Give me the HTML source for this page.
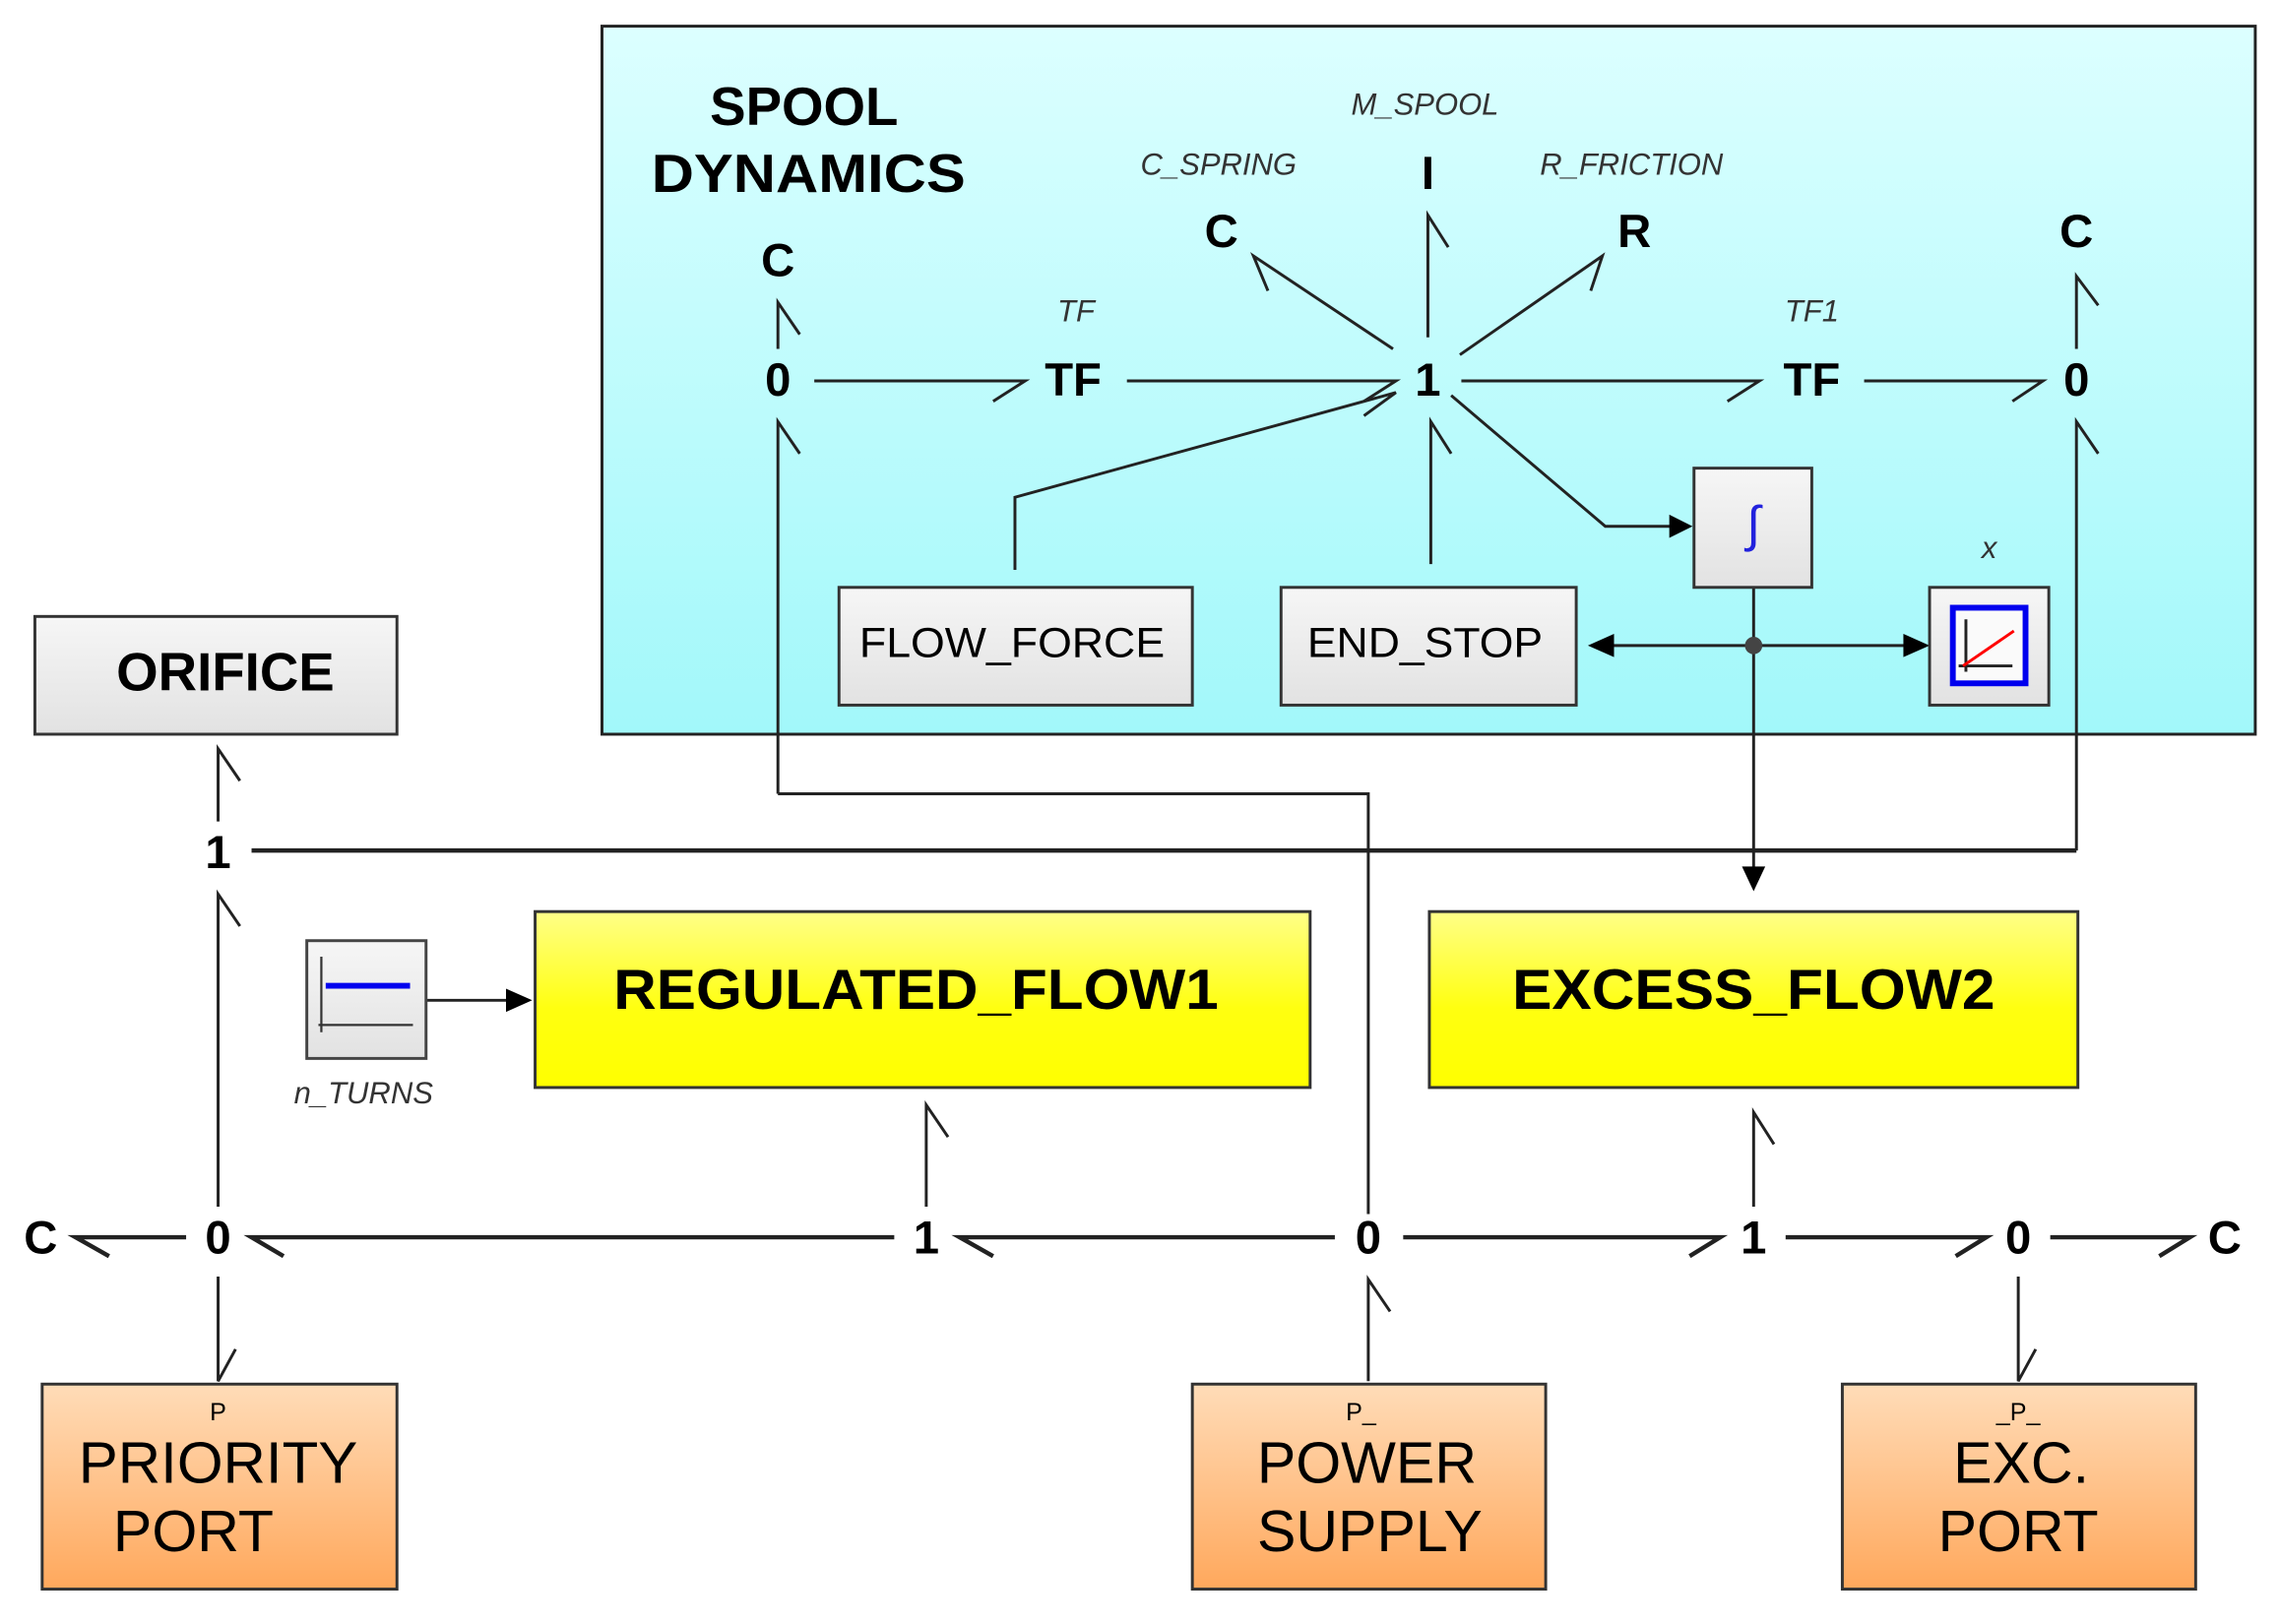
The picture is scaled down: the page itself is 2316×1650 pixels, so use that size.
<!DOCTYPE html>
<html><head><meta charset="utf-8"><style>
html,body{margin:0;padding:0;background:#fff;}
svg{display:block;}
text{font-family:"Liberation Sans",Arial,sans-serif;}
</style></head><body>
<svg width="2316" height="1650" viewBox="0 0 1568 1117" preserveAspectRatio="none" xmlns="http://www.w3.org/2000/svg">
<defs>
<linearGradient id="cy" x1="0" y1="0" x2="0" y2="1"><stop offset="0" stop-color="#dcffff"/><stop offset="1" stop-color="#a2f8fa"/></linearGradient>
<linearGradient id="gr" x1="0" y1="0" x2="0" y2="1"><stop offset="0" stop-color="#f6f6f6"/><stop offset="1" stop-color="#e2e2e2"/></linearGradient>
<linearGradient id="ye" x1="0" y1="0" x2="0" y2="1"><stop offset="0" stop-color="#ffff88"/><stop offset="0.55" stop-color="#ffff10"/><stop offset="1" stop-color="#ffff00"/></linearGradient>
<linearGradient id="or" x1="0" y1="0" x2="0" y2="1"><stop offset="0" stop-color="#ffdcb8"/><stop offset="1" stop-color="#ffa85c"/></linearGradient>
</defs>

<rect x="414" y="18" width="1137" height="487" fill="url(#cy)" stroke="#222" stroke-width="2"/>
<text x="553" y="86" font-size="37" font-weight="bold" text-anchor="middle">SPOOL</text>
<text x="556" y="132" font-size="37" font-weight="bold" text-anchor="middle" textLength="216" lengthAdjust="spacingAndGlyphs">DYNAMICS</text>

<g font-weight="bold" font-size="32" text-anchor="middle">
<text x="535" y="190">C</text>
<text x="535" y="272">0</text>
<text x="738" y="272">TF</text>
<text x="982" y="272">1</text>
<text x="840" y="170">C</text>
<text x="982" y="130">I</text>
<text x="1124" y="170">R</text>
<text x="1246" y="272">TF</text>
<text x="1428" y="272">0</text>
<text x="1428" y="170">C</text>
<text x="150" y="597">1</text>
<text x="28" y="862">C</text>
<text x="150" y="862">0</text>
<text x="637" y="862">1</text>
<text x="941" y="862">0</text>
<text x="1206" y="862">1</text>
<text x="1388" y="862">0</text>
<text x="1530" y="862">C</text>
</g>
<g font-style="italic" font-size="21" fill="#333" text-anchor="middle">
<text x="740" y="221">TF</text>
<text x="980" y="79">M_SPOOL</text>
<text x="838" y="120">C_SPRING</text>
<text x="1122" y="120">R_FRICTION</text>
<text x="1246" y="221">TF1</text>
<text x="1368" y="384">x</text>
<text x="250" y="759">n_TURNS</text>
</g>

<g stroke="#222" stroke-width="2" fill="none">
<path d="M535 240 V208 L550 230"/>
<path d="M560 262 H705 L683 276"/>
<path d="M775 262 H960 L938 276"/>
<path d="M958 240 L862 176 L872 200"/>
<path d="M982 232 V148 L996 170"/>
<path d="M1004 244 L1102 176 L1094 200"/>
<path d="M1005 262 H1210 L1188 276"/>
<path d="M1282 262 H1405 L1384 276"/>
<path d="M1428 240 V190 L1443 210"/>
<path d="M698 392 V342 L960 270 L938 286"/>
<path d="M984 388 V290 L998 312"/>
<path d="M998 272 L1104 362 H1150"/>
<path d="M1206 404 V598"/>
<path d="M1104 444 H1312"/>
<path d="M535 546 V290 L550 312"/>
<path d="M535 546 H941 V835"/>
<path d="M1428 585 V290 L1443 312"/>
<path d="M150 565 V515 L165 537"/>
<path d="M150 830 V615 L165 637"/>
<path d="M293 688 H352"/>
<path d="M637 830 V760 L652 782"/>
<path d="M1206 830 V765 L1220 787"/>
<path d="M150 878 V950 L162 928"/>
<path d="M941 950 V880 L956 902"/>
<path d="M1388 878 V950 L1400 928"/>
</g>
<g stroke="#222" stroke-width="3" fill="none">
<path d="M173 585 H1428"/>
<path d="M128 851 H52 L75 864"/>
<path d="M615 851 H173 L195 864"/>
<path d="M918 851 H660 L683 864"/>
<path d="M965 851 H1183 L1162 864"/>
<path d="M1228 851 H1366 L1345 864"/>
<path d="M1410 851 H1506 L1485 864"/>
</g>
<g fill="#000">
<polygon points="1164,362 1148,354 1148,370"/>
<polygon points="1092,444 1110,436 1110,452"/>
<polygon points="1327,444 1309,436 1309,452"/>
<polygon points="1206,613 1198,596 1214,596"/>
<polygon points="366,688 348,680 348,696"/>
<circle cx="1206" cy="444" r="6" fill="#444"/>
</g>

<rect x="577" y="404" width="243" height="81" fill="url(#gr)" stroke="#333" stroke-width="2"/>
<text x="696" y="452" font-size="29" text-anchor="middle" textLength="210" lengthAdjust="spacingAndGlyphs">FLOW_FORCE</text>
<rect x="881" y="404" width="203" height="81" fill="url(#gr)" stroke="#333" stroke-width="2"/>
<text x="980" y="452" font-size="29" text-anchor="middle" textLength="162" lengthAdjust="spacingAndGlyphs">END_STOP</text>
<rect x="1165" y="322" width="81" height="82" fill="url(#gr)" stroke="#333" stroke-width="2"/>
<text x="1206" y="372" font-size="34" font-style="italic" fill="#2222dd" text-anchor="middle">∫</text>
<rect x="1327" y="404" width="82" height="81" fill="url(#gr)" stroke="#333" stroke-width="2"/>
<rect x="1343" y="418" width="50" height="52" fill="#fafafa" stroke="#0000ee" stroke-width="4"/>
<path d="M1352 426 V462 M1347 458 H1384" stroke="#222" stroke-width="2"/>
<path d="M1350 458 L1385 434" stroke="#ff0000" stroke-width="2"/>

<rect x="24" y="424" width="249" height="81" fill="url(#gr)" stroke="#333" stroke-width="2"/>
<text x="155" y="475" font-size="37" font-weight="bold" text-anchor="middle">ORIFICE</text>

<rect x="211" y="647" width="82" height="81" fill="url(#gr)" stroke="#444" stroke-width="2"/>
<path d="M221 658 V710 M219 705 H284" stroke="#333" stroke-width="1.5"/>
<path d="M224 678 H282" stroke="#0000ee" stroke-width="4"/>

<rect x="368" y="627" width="533" height="121" fill="url(#ye)" stroke="#333" stroke-width="2"/>
<text x="630" y="694" font-size="39" font-weight="bold" text-anchor="middle" textLength="416" lengthAdjust="spacingAndGlyphs">REGULATED_FLOW1</text>
<rect x="983" y="627" width="446" height="121" fill="url(#ye)" stroke="#333" stroke-width="2"/>
<text x="1206" y="694" font-size="39" font-weight="bold" text-anchor="middle" textLength="332" lengthAdjust="spacingAndGlyphs">EXCESS_FLOW2</text>

<rect x="29" y="952" width="244" height="141" fill="url(#or)" stroke="#333" stroke-width="2"/>
<text x="150" y="977" font-size="17" text-anchor="middle">P</text>
<text x="150" y="1020" font-size="40" text-anchor="middle" textLength="192" lengthAdjust="spacingAndGlyphs">PRIORITY</text>
<text x="133" y="1067" font-size="40" text-anchor="middle">PORT</text>
<rect x="820" y="952" width="243" height="141" fill="url(#or)" stroke="#333" stroke-width="2"/>
<text x="936" y="977" font-size="17" text-anchor="middle">P_</text>
<text x="940" y="1020" font-size="40" text-anchor="middle">POWER</text>
<text x="942" y="1067" font-size="40" text-anchor="middle">SUPPLY</text>
<rect x="1267" y="952" width="243" height="141" fill="url(#or)" stroke="#333" stroke-width="2"/>
<text x="1388" y="977" font-size="17" text-anchor="middle">_P_</text>
<text x="1390" y="1020" font-size="40" text-anchor="middle">EXC.</text>
<text x="1388" y="1067" font-size="40" text-anchor="middle">PORT</text>
</svg>
</body></html>
